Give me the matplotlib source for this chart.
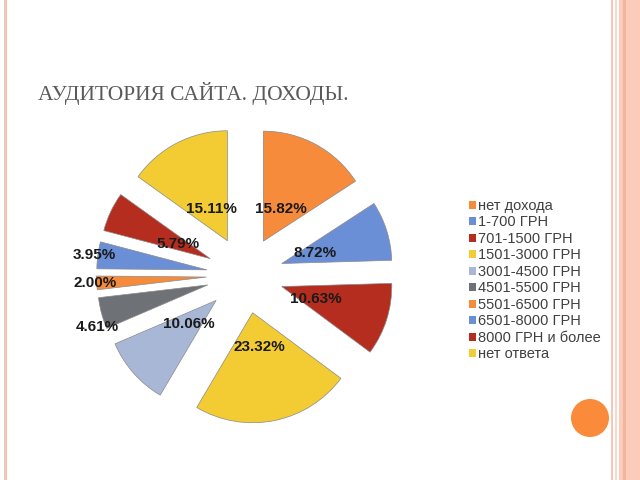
import matplotlib
matplotlib.use("Agg")
import matplotlib.pyplot as plt
import numpy as np
from matplotlib.patches import Rectangle, Circle

# ---- data ----
categories = ["нет дохода", "1-700 ГРН", "701-1500 ГРН", "1501-3000 ГРН",
              "3001-4500 ГРН", "4501-5500 ГРН", "5501-6500 ГРН",
              "6501-8000 ГРН", "8000 ГРН и более", "нет ответа"]
values = [15.82, 8.72, 10.63, 23.32, 10.06, 4.61, 2.00, 3.95, 5.79, 15.11]
pct_labels = ["15.82%", "8.72%", "10.63%", "23.32%", "10.06%",
              "4.61%", "2.00%", "3.95%", "5.79%", "15.11%"]
title = "АУДИТОРИЯ САЙТА. ДОХОДЫ."

# ---- style ----
colors = ['#F68B3B', '#6B8FD6', '#B42D1E', '#F3CB33', '#A9B7D7',
          '#6E7176', '#F68B3B', '#6B8FD6', '#B42D1E', '#F3CB33']
label_dist = [0.33, 0.32, 0.33, 0.32, 0.33, 1.08, 1.01, 1.03, 0.32, 0.32]
label_dang = [0, 0, -3, 0, 0, 6, 0, 0, 0, 0]
explode = [0.35] * len(values)

plt.rcParams['font.family'] = ['Liberation Sans', 'DejaVu Sans']

fig = plt.figure(figsize=(6.4, 4.8), dpi=100)
fig.patch.set_facecolor('white')

# decoration layer in pixel coordinates
deco = fig.add_axes([0, 0, 1, 1])
deco.set_xlim(0, 640)
deco.set_ylim(480, 0)
deco.axis('off')
deco.add_patch(Rectangle((3.5, 0), 3, 480, color='#F6C2B2', lw=0))
deco.add_patch(Rectangle((610.5, 0), 2, 480, color='#F7C6B6', lw=0))
deco.add_patch(Rectangle((615, 0), 2, 480, color='#FBD6C9', lw=0))
deco.add_patch(Rectangle((619, 0), 21, 480, color='#FCCBBA', lw=0))
deco.add_patch(Rectangle((623, 0), 3, 480, color='#EDB69E', lw=0))
deco.add_patch(Circle((590, 418), 19, color='#F98B3A', lw=0))

fig.text(38 / 640, 1 - 100 / 480, title, family='Liberation Serif',
         fontsize=15.5, color='#5A5A5A', va='baseline', ha='left')

# pie
R = 110.0
ax = fig.add_axes([(245 - 1.6 * R) / 640, (480 - 275 - 1.6 * R) / 480,
                   3.2 * R / 640, 3.2 * R / 480])
wedges, _ = ax.pie(values, colors=colors, startangle=90, counterclock=False,
                   explode=explode, radius=1.0,
                   wedgeprops=dict(edgecolor='#8A8A8A', linewidth=0.5))
ax.set_xlim(-1.6, 1.6)
ax.set_ylim(-1.6, 1.6)
ax.set_aspect('equal')
ax.axis('off')

for w, lab, d, da in zip(wedges, pct_labels, label_dist, label_dang):
    th = np.deg2rad((w.theta1 + w.theta2) / 2 + da)
    cx, cy = w.center
    ax.text(cx + d * w.r * np.cos(th), cy + d * w.r * np.sin(th), lab,
            ha='center', va='center', fontsize=11, fontweight='bold',
            color='#1A1A1A')

leg = fig.legend(wedges, categories, loc='upper left',
                 bbox_to_anchor=(469 / 640, 1 - 199 / 480),
                 frameon=False, fontsize=10.5, handlelength=0.45,
                 handleheight=0.45, handletextpad=0.15, labelspacing=0.17,
                 borderpad=0, borderaxespad=0)
for t in leg.get_texts():
    t.set_color('#404040')
for h in leg.legend_handles:
    h.set_edgecolor('none')

fig.savefig('out.png', dpi=100)
